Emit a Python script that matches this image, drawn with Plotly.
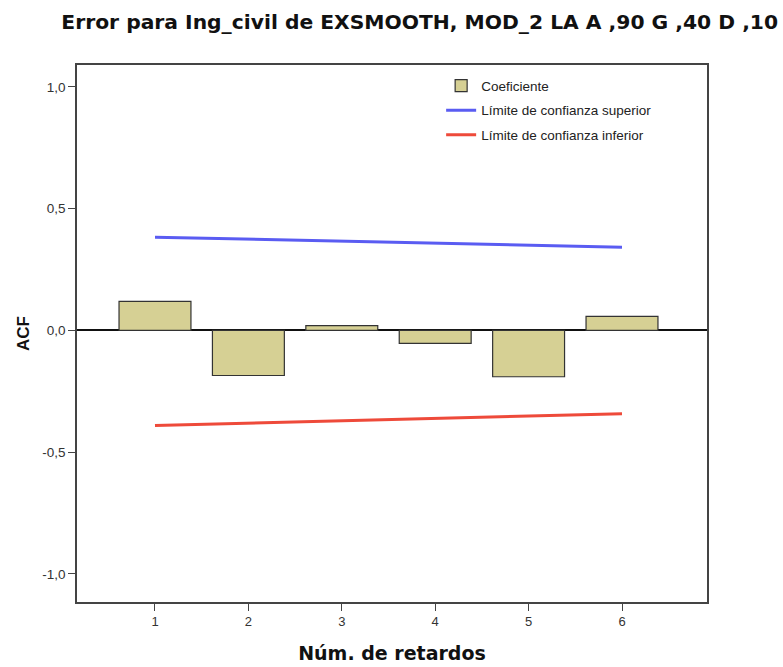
import plotly.graph_objects as go

lags = [1, 2, 3, 4, 5, 6]
coef = [0.119, -0.185, 0.020, -0.053, -0.190, 0.058]
upper = [0.383, 0.375, 0.367, 0.358, 0.350, 0.342]
lower = [-0.390, -0.380, -0.370, -0.360, -0.350, -0.342]
yticks = [-1.0, -0.5, 0.0, 0.5, 1.0]
yticklabels = ["-1,0", "-0,5", "0,0", "0,5", "1,0"]

fig = go.Figure()
fig.add_trace(go.Bar(x=lags, y=coef, name="Coeficiente", width=0.77, legendgroup="a",
                     marker=dict(color="#d6d094", line=dict(color="#333333", width=1.2))))
fig.add_trace(go.Scatter(x=lags, y=upper, mode="lines", name="Límite de confianza superior",
                         legendgroup="b", line=dict(color="#5a5cf2", width=3)))
fig.add_trace(go.Scatter(x=lags, y=lower, mode="lines", name="Límite de confianza inferior",
                         legendgroup="c", line=dict(color="#ee4a3a", width=3)))

fig.update_layout(
    width=783, height=667,
    margin=dict(l=77, r=76, t=65, b=65),
    paper_bgcolor="white", plot_bgcolor="white",
    font=dict(family="Liberation Sans, Arial", color="#222222"),
    title=dict(text="<b>Error para Ing_civil de EXSMOOTH, MOD_2 LA A ,90 G ,40 D ,10</b>",
               x=0.536, xanchor="center", y=0.967, yanchor="middle",
               font=dict(size=20.3, family="DejaVu Sans", color="#111111")),
    showlegend=True,
    legend=dict(x=0.578, y=0.99, xanchor="left", yanchor="top",
                bgcolor="rgba(0,0,0,0)", font=dict(size=13.5, color="#222222"),
                tracegroupgap=4, itemwidth=30),
    bargap=0.2,
)
fig.update_xaxes(range=[0.165, 6.91], tickvals=lags, ticks="outside", ticklen=7,
                 tickcolor="#444444", showline=True, linecolor="#444444", linewidth=1.5,
                 mirror=True, showgrid=False, zeroline=False, automargin=False,
                 tickfont=dict(size=13, color="#333333"),
                 title=dict(text="<b>Núm. de retardos</b>",
                            font=dict(size=19, family="DejaVu Sans", color="#111111"),
                            standoff=18))
fig.update_yaxes(range=[-1.115, 1.09], tickvals=yticks, ticktext=yticklabels,
                 ticks="outside", ticklen=7, tickcolor="#444444",
                 showline=True, linecolor="#444444", linewidth=1.5, mirror=True,
                 showgrid=False, zeroline=True, zerolinecolor="#111111", zerolinewidth=1.5,
                 automargin=False,
                 tickfont=dict(size=13.5, color="#333333"),
                 title=dict(text="<b>ACF</b>", font=dict(size=17, color="#111111"), standoff=8))

fig.write_html("out.html")
